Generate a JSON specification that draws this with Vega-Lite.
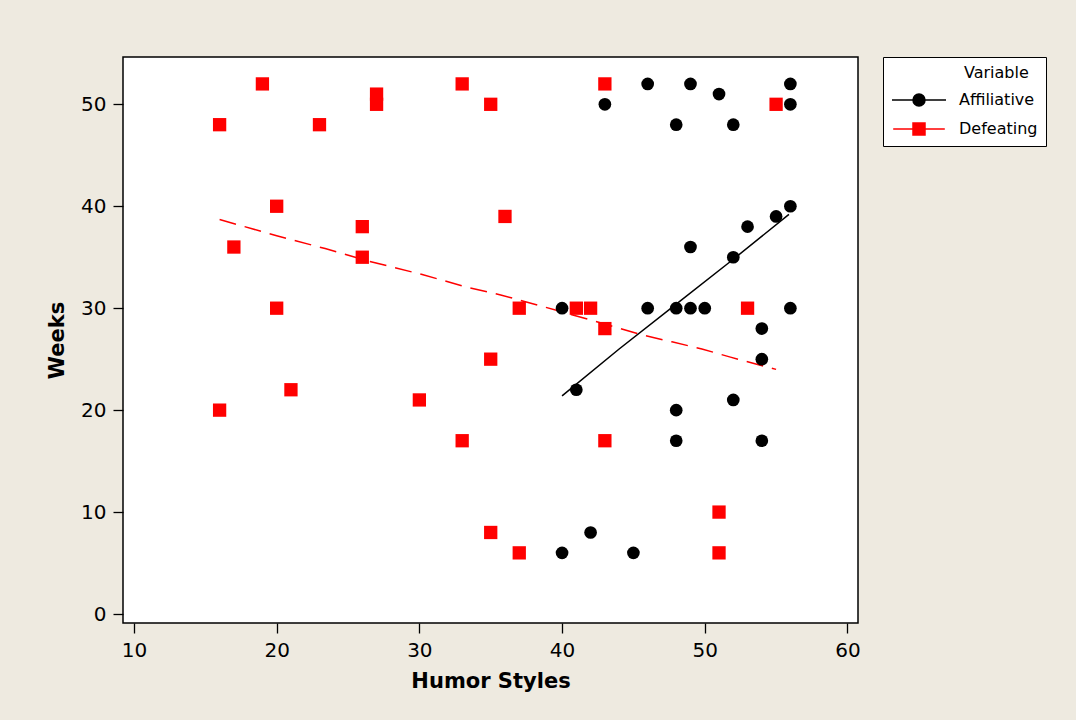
{
  "$schema": "https://vega.github.io/schema/vega-lite/v6.json",
  "width": 735,
  "height": 566,
  "autosize": {"type": "none"},
  "padding": {"left": 123, "top": 57, "right": 218, "bottom": 97},
  "background": "#EEEAE0",
  "config": {
    "view": {"stroke": "black", "strokeWidth": 1.5, "fill": "white"},
    "font": "DejaVu Sans",
    "axis": {
      "grid": false,
      "domain": false,
      "tickColor": "black",
      "tickWidth": 1.3,
      "tickSize": 10,
      "labelColor": "black",
      "labelFont": "DejaVu Sans",
      "labelFontSize": 20,
      "titleFont": "DejaVu Sans",
      "titleFontSize": 21,
      "titleFontWeight": "bold",
      "titleColor": "black"
    },
    "legend": {
      "orient": "none",
      "legendX": 760,
      "legendY": 0,
      "titleFont": "DejaVu Sans",
      "titleFontSize": 16,
      "titleFontWeight": "normal",
      "titleColor": "black",
      "titleAnchor": "middle",
      "titleAlign": "left",
      "titlePadding": 11,
      "labelFont": "DejaVu Sans",
      "labelFontSize": 16,
      "labelColor": "black",
      "labelOffset": 32,
      "symbolSize": 144,
      "symbolOffset": 20,
      "symbolStrokeWidth": 1.5,
      "symbolOpacity": 1,
      "rowPadding": 11,
      "padding": 8,
      "fillColor": "white",
      "strokeColor": "black"
    }
  },
  "datasets": {
    "points": [
      {"Humor": 46, "Weeks": 52, "Variable": "Affiliative"},
      {"Humor": 49, "Weeks": 52, "Variable": "Affiliative"},
      {"Humor": 51, "Weeks": 51, "Variable": "Affiliative"},
      {"Humor": 56, "Weeks": 52, "Variable": "Affiliative"},
      {"Humor": 43, "Weeks": 50, "Variable": "Affiliative"},
      {"Humor": 56, "Weeks": 50, "Variable": "Affiliative"},
      {"Humor": 48, "Weeks": 48, "Variable": "Affiliative"},
      {"Humor": 52, "Weeks": 48, "Variable": "Affiliative"},
      {"Humor": 56, "Weeks": 40, "Variable": "Affiliative"},
      {"Humor": 55, "Weeks": 39, "Variable": "Affiliative"},
      {"Humor": 53, "Weeks": 38, "Variable": "Affiliative"},
      {"Humor": 49, "Weeks": 36, "Variable": "Affiliative"},
      {"Humor": 52, "Weeks": 35, "Variable": "Affiliative"},
      {"Humor": 40, "Weeks": 30, "Variable": "Affiliative"},
      {"Humor": 46, "Weeks": 30, "Variable": "Affiliative"},
      {"Humor": 48, "Weeks": 30, "Variable": "Affiliative"},
      {"Humor": 49, "Weeks": 30, "Variable": "Affiliative"},
      {"Humor": 50, "Weeks": 30, "Variable": "Affiliative"},
      {"Humor": 56, "Weeks": 30, "Variable": "Affiliative"},
      {"Humor": 54, "Weeks": 28, "Variable": "Affiliative"},
      {"Humor": 54, "Weeks": 25, "Variable": "Affiliative"},
      {"Humor": 41, "Weeks": 22, "Variable": "Affiliative"},
      {"Humor": 52, "Weeks": 21, "Variable": "Affiliative"},
      {"Humor": 48, "Weeks": 20, "Variable": "Affiliative"},
      {"Humor": 48, "Weeks": 17, "Variable": "Affiliative"},
      {"Humor": 54, "Weeks": 17, "Variable": "Affiliative"},
      {"Humor": 42, "Weeks": 8, "Variable": "Affiliative"},
      {"Humor": 40, "Weeks": 6, "Variable": "Affiliative"},
      {"Humor": 45, "Weeks": 6, "Variable": "Affiliative"},
      {"Humor": 16, "Weeks": 48, "Variable": "Defeating"},
      {"Humor": 19, "Weeks": 52, "Variable": "Defeating"},
      {"Humor": 23, "Weeks": 48, "Variable": "Defeating"},
      {"Humor": 27, "Weeks": 51, "Variable": "Defeating"},
      {"Humor": 27, "Weeks": 50, "Variable": "Defeating"},
      {"Humor": 33, "Weeks": 52, "Variable": "Defeating"},
      {"Humor": 35, "Weeks": 50, "Variable": "Defeating"},
      {"Humor": 20, "Weeks": 40, "Variable": "Defeating"},
      {"Humor": 17, "Weeks": 36, "Variable": "Defeating"},
      {"Humor": 26, "Weeks": 38, "Variable": "Defeating"},
      {"Humor": 26, "Weeks": 35, "Variable": "Defeating"},
      {"Humor": 20, "Weeks": 30, "Variable": "Defeating"},
      {"Humor": 36, "Weeks": 39, "Variable": "Defeating"},
      {"Humor": 35, "Weeks": 25, "Variable": "Defeating"},
      {"Humor": 21, "Weeks": 22, "Variable": "Defeating"},
      {"Humor": 16, "Weeks": 20, "Variable": "Defeating"},
      {"Humor": 30, "Weeks": 21, "Variable": "Defeating"},
      {"Humor": 33, "Weeks": 17, "Variable": "Defeating"},
      {"Humor": 35, "Weeks": 8, "Variable": "Defeating"},
      {"Humor": 43, "Weeks": 52, "Variable": "Defeating"},
      {"Humor": 55, "Weeks": 50, "Variable": "Defeating"},
      {"Humor": 37, "Weeks": 30, "Variable": "Defeating"},
      {"Humor": 41, "Weeks": 30, "Variable": "Defeating"},
      {"Humor": 42, "Weeks": 30, "Variable": "Defeating"},
      {"Humor": 43, "Weeks": 28, "Variable": "Defeating"},
      {"Humor": 53, "Weeks": 30, "Variable": "Defeating"},
      {"Humor": 43, "Weeks": 17, "Variable": "Defeating"},
      {"Humor": 37, "Weeks": 6, "Variable": "Defeating"},
      {"Humor": 51, "Weeks": 10, "Variable": "Defeating"},
      {"Humor": 51, "Weeks": 6, "Variable": "Defeating"}
    ],
    "fits": [
      {"Humor": 40.0, "Weeks": 21.4, "Variable": "Affiliative"},
      {"Humor": 44.0, "Weeks": 26.0, "Variable": "Affiliative"},
      {"Humor": 48.0, "Weeks": 30.4, "Variable": "Affiliative"},
      {"Humor": 52.0, "Weeks": 34.8, "Variable": "Affiliative"},
      {"Humor": 55.9, "Weeks": 39.2, "Variable": "Affiliative"},
      {"Humor": 16.0, "Weeks": 38.7, "Variable": "Defeating"},
      {"Humor": 20.0, "Weeks": 37.1, "Variable": "Defeating"},
      {"Humor": 23.4, "Weeks": 35.85, "Variable": "Defeating"},
      {"Humor": 26.5, "Weeks": 34.6, "Variable": "Defeating"},
      {"Humor": 30.2, "Weeks": 33.3, "Variable": "Defeating"},
      {"Humor": 33.5, "Weeks": 32.0, "Variable": "Defeating"},
      {"Humor": 35.7, "Weeks": 31.3, "Variable": "Defeating"},
      {"Humor": 39.6, "Weeks": 29.8, "Variable": "Defeating"},
      {"Humor": 43.6, "Weeks": 28.2, "Variable": "Defeating"},
      {"Humor": 45.7, "Weeks": 27.35, "Variable": "Defeating"},
      {"Humor": 47.7, "Weeks": 26.7, "Variable": "Defeating"},
      {"Humor": 49.8, "Weeks": 26.0, "Variable": "Defeating"},
      {"Humor": 51.8, "Weeks": 25.2, "Variable": "Defeating"},
      {"Humor": 53.9, "Weeks": 24.4, "Variable": "Defeating"},
      {"Humor": 55.0, "Weeks": 24.0, "Variable": "Defeating"}
    ]
  },
  "encoding": {
    "x": {"field": "Humor", "type": "quantitative", "scale": {"domain": [9.23, 60.74], "nice": false, "zero": false}, "axis": {"values": [10, 20, 30, 40, 50, 60], "title": "Humor Styles", "labelPadding": 7, "titlePadding": 10}},
    "y": {"field": "Weeks", "type": "quantitative", "scale": {"domain": [-0.88, 54.64], "nice": false, "zero": false}, "axis": {"values": [0, 10, 20, 30, 40, 50], "title": "Weeks", "labelPadding": 7, "titlePadding": 13}}
  },
  "layer": [
    {
      "data": {"name": "fits"},
      "transform": [{"filter": "datum.Variable === 'Defeating'"}],
      "mark": {"type": "line", "strokeWidth": 1.5, "color": "#FF0000", "strokeDash": [17, 9]},
      "encoding": {}
    },
    {
      "data": {"name": "fits"},
      "transform": [{"filter": "datum.Variable === 'Affiliative'"}],
      "mark": {"type": "line", "strokeWidth": 1.5, "color": "black"},
      "encoding": {}
    },
    {
      "data": {"name": "points"},
      "mark": {"type": "point", "filled": true, "opacity": 0},
      "encoding": {
        "color": {"field": "Variable", "type": "nominal", "title": "Variable", "scale": {"domain": ["Affiliative", "Defeating"], "range": ["black", "#FF0000"]}},
        "stroke": {"field": "Variable", "type": "nominal", "title": "Variable", "scale": {"domain": ["Affiliative", "Defeating"], "range": ["black", "#FF0000"]}},
        "shape": {"field": "Variable", "type": "nominal", "title": "Variable", "scale": {"domain": ["Affiliative", "Defeating"], "range": ["M-4.5,0H4.5M1,0A1,1,0,1,1,-1,0A1,1,0,1,1,1,0Z", "M-4.3,0H4.3M-1,-1H1V1H-1Z"]}}
      }
    },
    {
      "data": {"name": "points"},
      "mark": {"type": "point", "filled": true, "opacity": 1},
      "encoding": {
        "shape": {"condition": {"test": "datum.Variable === 'Affiliative'", "value": "circle"}, "value": "square"},
        "size": {"condition": {"test": "datum.Variable === 'Affiliative'", "value": 161}, "value": 177},
        "color": {"condition": {"test": "datum.Variable === 'Affiliative'", "value": "black"}, "value": "#FF0000"}
      }
    }
  ]
}
